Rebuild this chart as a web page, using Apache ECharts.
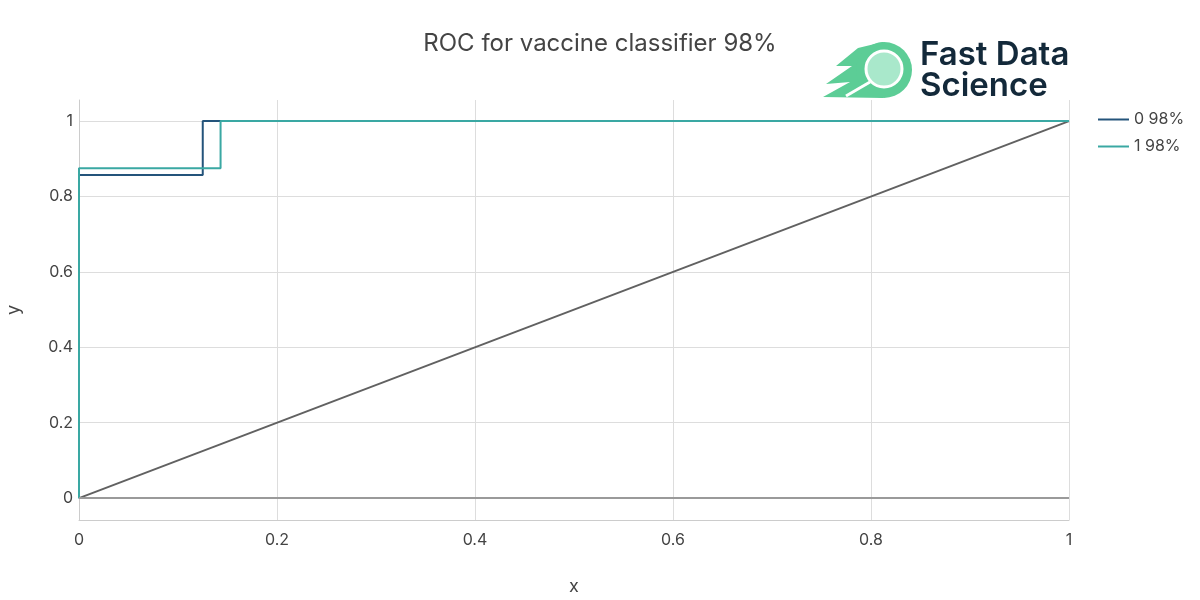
<!DOCTYPE html>
<html>
<head>
<meta charset="utf-8">
<script src="https://cdn.jsdelivr.net/npm/echarts@6/dist/echarts.min.js"></script>
<style>
  html, body { margin: 0; padding: 0; background: #fff; }
  #chart { width: 1200px; height: 600px; }
</style>
</head>
<body>
<div id="chart"></div>
<script>
// ROC data
var fpr0 = [0, 0, 0.125, 0.125, 1];
var tpr0 = [0, 0.857, 0.857, 1, 1];
var fpr1 = [0, 0, 0.143, 0.143, 1];
var tpr1 = [0, 0.875, 0.875, 1, 1];
var diagX = [0, 1];
var diagY = [0, 1];
var names = ['0 98%', '1 98%'];
var yTicks = [0, 0.2, 0.4, 0.6, 0.8, 1];

function pairs(xs, ys) {
  return xs.map(function (x, i) { return [x, ys[i]]; });
}

var font = 'Inter, "Noto Sans", sans-serif';
var chart = echarts.init(document.getElementById('chart'));

var option = {
  backgroundColor: '#fff',
  animation: false,
  textStyle: { fontFamily: font },
  title: {
    text: 'ROC for vaccine classifier 98%',
    left: 'center',
    top: 27,
    textStyle: { fontSize: 24, fontWeight: 'normal', color: '#444', fontFamily: font }
  },
  legend: {
    data: names,
    orient: 'vertical',
    left: 1093,
    top: 105,
    icon: 'rect',
    itemWidth: 31,
    itemHeight: 2,
    itemGap: 8,
    textStyle: { fontSize: 16, lineHeight: 19, color: '#444', fontFamily: font }
  },
  grid: { left: 79, right: 131, top: 100, bottom: 80, outerBoundsMode: 'none' },
  xAxis: {
    type: 'value',
    min: 0,
    max: 1,
    interval: 0.2,
    name: 'x',
    nameLocation: 'middle',
    nameGap: 58,
    nameTextStyle: { fontSize: 18, color: '#444' },
    axisLine: { onZero: false, lineStyle: { color: '#ccc', width: 1 } },
    axisTick: { show: false },
    axisLabel: { fontSize: 16, color: '#444', margin: 12 },
    splitLine: { show: true, lineStyle: { color: '#ddd', width: 1 } }
  },
  yAxis: {
    type: 'value',
    min: -0.058,
    max: 1.056,
    name: 'y',
    nameLocation: 'middle',
    nameGap: 56,
    nameTextStyle: { fontSize: 18, color: '#444' },
    axisLine: { show: true, onZero: false, lineStyle: { color: '#ccc', width: 1 } },
    axisTick: { show: false, customValues: yTicks },
    axisLabel: { fontSize: 16, color: '#444', margin: 6, customValues: yTicks },
    splitLine: { show: true, lineStyle: { color: '#ddd', width: 1 } }
  },
  graphic: [
    {
      type: 'polygon',
      shape: { points: [[883, 42], [858, 48], [836, 66], [852, 66], [826, 84], [850, 82], [823, 97], [883, 98]] },
      style: { fill: '#5ccd96' }
    },
    { type: 'circle', shape: { cx: 884, cy: 70, r: 28 }, style: { fill: '#5ccd96' } },
    { type: 'circle', shape: { cx: 884, cy: 69, r: 18 }, style: { fill: '#a9e8cb', stroke: '#fff', lineWidth: 3 } },
    { type: 'line', shape: { x1: 870, y1: 82, x2: 846, y2: 96 }, style: { stroke: '#fff', lineWidth: 3 } },
    {
      type: 'text', left: 920, top: 39,
      style: { text: 'Fast Data', fontSize: 33, fontWeight: 600, fill: '#13293a', fontFamily: font }
    },
    {
      type: 'text', left: 920, top: 70,
      style: { text: 'Science', fontSize: 33, fontWeight: 600, fill: '#13293a', fontFamily: font }
    }
  ],
  series: [
    {
      type: 'line',
      data: pairs(diagX, diagY),
      symbol: 'none',
      silent: true,
      lineStyle: { color: '#616161', width: 2 },
      markLine: {
        silent: true,
        symbol: 'none',
        label: { show: false },
        lineStyle: { color: '#9a9a9a', width: 2, type: 'solid' },
        data: [{ yAxis: 0 }]
      },
      z: 1
    },
    {
      name: names[0],
      type: 'line',
      data: pairs(fpr0, tpr0),
      symbol: 'none',
      color: '#24547b',
      lineStyle: { color: '#24547b', width: 2 },
      z: 2
    },
    {
      name: names[1],
      type: 'line',
      data: pairs(fpr1, tpr1),
      symbol: 'none',
      color: '#3aa8a3',
      lineStyle: { color: '#3aa8a3', width: 2 },
      z: 3
    }
  ]
};

chart.setOption(option);
</script>
</body>
</html>
